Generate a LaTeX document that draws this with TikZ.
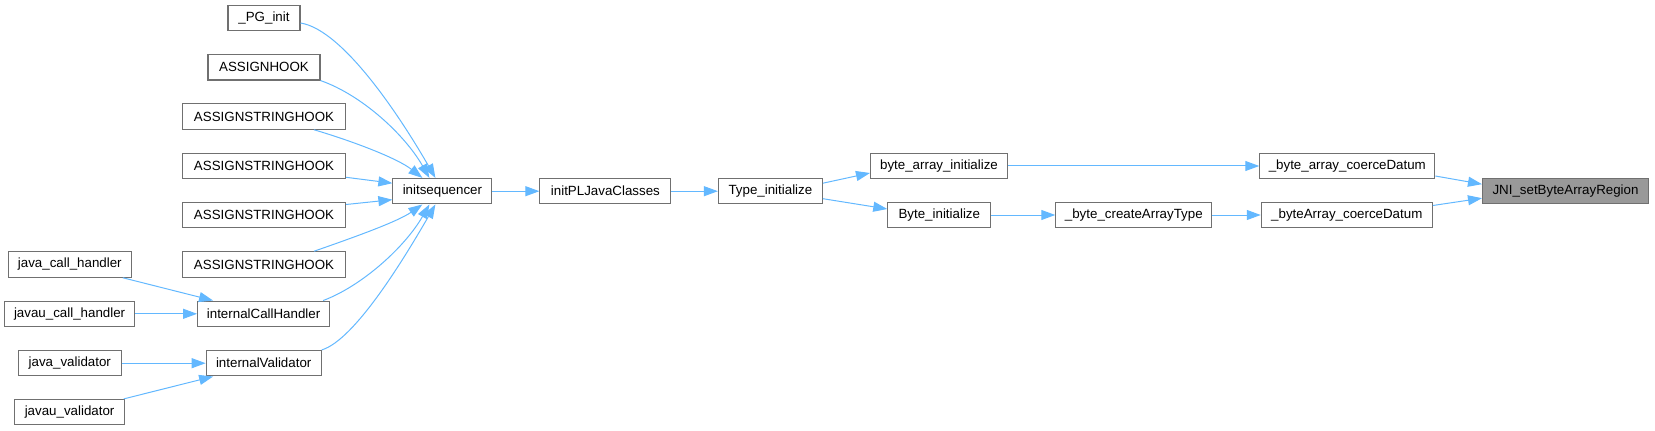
\documentclass[tikz,border=0pt]{standalone}
\usepackage{fontspec}
\setmainfont{Liberation Sans}
\usetikzlibrary{arrows.meta,calc}
\definecolor{edgec}{HTML}{63B8FF}
\definecolor{bordc}{HTML}{707070}
\definecolor{fillg}{HTML}{999999}
\begin{document}
\begin{tikzpicture}[x=0.75pt,y=-0.75pt,
  box/.style={draw=bordc, fill=white, line width=0.8pt, inner sep=0pt,
    minimum height=19.1pt, font=\fontsize{10}{12}\selectfont, text=black},
  hl/.style={box, fill=fillg},
  edge/.style={draw=edgec, line width=0.75pt,
    -{Triangle[length=10.5pt,width=7.5pt]}}]
\useasboundingbox (0,0) rectangle (1655,431);
% left column
\node[box,minimum width=72*0.75pt] (PG) at (264,18) {\_PG\_init};
\node[box,minimum width=112*0.75pt] (AH) at (264,67.3) {ASSIGNHOOK};
\node[box,minimum width=163*0.75pt] (S1) at (264,116.5) {ASSIGNSTRINGHOOK};
\node[box,minimum width=163*0.75pt] (S2) at (264,165.8) {ASSIGNSTRINGHOOK};
\node[box,minimum width=163*0.75pt] (S3) at (264,215) {ASSIGNSTRINGHOOK};
\node[box,minimum width=163*0.75pt] (S4) at (264,264.5) {ASSIGNSTRINGHOOK};
\node[box,minimum width=132*0.75pt] (ICH) at (263.6,313.8) {internalCallHandler};
\node[box,minimum width=115*0.75pt] (IV) at (263.7,363.2) {internalValidator};
\node[box,minimum width=123*0.75pt] (JCH) at (69.8,264.5) {java\_call\_handler};
\node[box,minimum width=130*0.75pt] (JUCH) at (69.6,313.8) {javau\_call\_handler};
\node[box,minimum width=103*0.75pt] (JV) at (69.8,363.2) {java\_validator};
\node[box,minimum width=110*0.75pt] (JUV) at (69.6,412.2) {javau\_validator};
% middle
\node[box,minimum width=99*0.75pt] (IS) at (442.4,191.2) {initsequencer};
\node[box,minimum width=131*0.75pt] (IPL) at (605.4,191.2) {initPLJavaClasses};
\node[box,minimum width=104*0.75pt] (TI) at (770.4,191.2) {Type\_initialize};
\node[box,minimum width=137*0.75pt] (BAI) at (939,166) {byte\_array\_initialize};
\node[box,minimum width=103*0.75pt] (BI) at (939.3,215) {Byte\_initialize};
\node[box,minimum width=156*0.75pt] (BCAT) at (1133.8,215) {\_byte\_createArrayType};
\node[box,minimum width=175*0.75pt] (BACD) at (1347.3,166) {\_byte\_array\_coerceDatum};
\node[box,minimum width=171*0.75pt] (BYCD) at (1346.8,215) {\_byteArray\_coerceDatum};
\node[hl,minimum width=166*0.75pt] (JNI) at (1565.5,191.2) {JNI\_setByteArrayRegion};
% edges into initsequencer
\draw[edge] ($(PG.east)+(0,5)$) .. controls (345,30) and (405,125) .. ($(IS.north)+(-7,0)$);
\draw[edge] ($(AH.south east)+(0,0)$) .. controls (362,95) and (405,135) .. ($(IS.north)+(-13,0)$);
\draw[edge] ($(S1.south east)+(-32,0)$) .. controls (352,141) and (397,158) .. ($(IS.north)+(-20,0)$);
\draw[edge] ($(S2.east)+(0,11.5)$) -- ($(IS.west)+(0,-8)$);
\draw[edge] ($(S3.east)+(0,-10.5)$) -- ($(IS.west)+(0,8.5)$);
\draw[edge] ($(S4.north east)+(-32,0)$) .. controls (352,238) and (397,222) .. ($(IS.south)+(-20,0)$);
\draw[edge] ($(ICH.north east)+(-7,0)$) .. controls (362,286) and (405,247) .. ($(IS.south)+(-13,0)$);
\draw[edge] ($(IV.north east)+(0,0)$) .. controls (355,340) and (405,257) .. ($(IS.south)+(-7,0)$);
% edges into internal nodes
\draw[edge] ($(JCH.south east)+(-9,0)$) -- ($(ICH.north west)+(16,0)$);
\draw[edge] (JUCH.east) -- (ICH.west);
\draw[edge] (JV.east) -- (IV.west);
\draw[edge] ($(JUV.north east)+(-1.5,0)$) -- ($(IV.south west)+(7.5,0)$);
% main chain
\draw[edge] (IS.east) -- (IPL.west);
\draw[edge] (IPL.east) -- (TI.west);
\draw[edge] ($(TI.east)+(0,-8)$) -- ($(BAI.west)+(0,7)$);
\draw[edge] ($(TI.east)+(0,7.5)$) -- ($(BI.west)+(0,-6)$);
\draw[edge] (BAI.east) -- (BACD.west);
\draw[edge] (BI.east) -- (BCAT.west);
\draw[edge] (BCAT.east) -- (BYCD.west);
\draw[edge] ($(BACD.east)+(0,10)$) -- ($(JNI.west)+(0,-7)$);
\draw[edge] ($(BYCD.east)+(0,-9.5)$) -- ($(JNI.west)+(0,7)$);
\end{tikzpicture}
\end{document}
